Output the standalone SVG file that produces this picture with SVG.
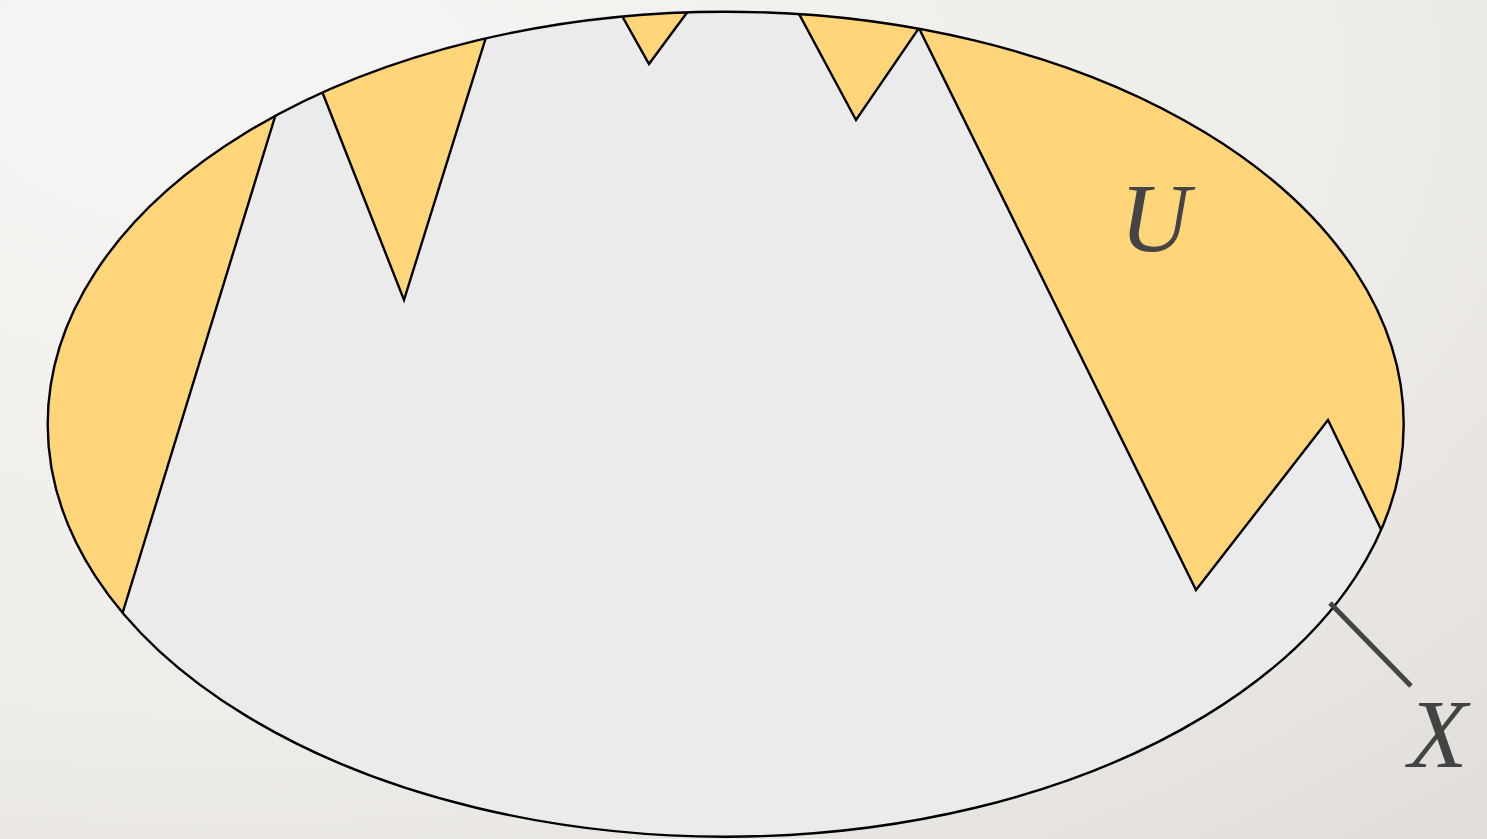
<svg xmlns="http://www.w3.org/2000/svg" width="1487" height="839" viewBox="0 0 1487 839">
  <defs>
    <radialGradient id="bg" cx="0.15" cy="0.1" r="1.2">
      <stop offset="0" stop-color="#f6f5f3"/>
      <stop offset="0.6" stop-color="#efedea"/>
      <stop offset="1" stop-color="#e2dfda"/>
    </radialGradient>
    <clipPath id="clipX">
      <ellipse cx="725.7" cy="424.2" rx="678" ry="412.5"/>
    </clipPath>
    <style>
      .u { fill: #FFD57A; stroke: #000; stroke-width: 2.4; stroke-linejoin: miter; }
      .lbl { font-family: "Times New Roman", "Liberation Serif", serif; font-style: italic; font-weight: normal; font-size: 97px; fill: #444444; }
    </style>
  </defs>
  <rect x="0" y="0" width="1487" height="839" fill="url(#bg)"/>
  <g id="set-X">
    <ellipse cx="725.7" cy="424.2" rx="678" ry="412.5" fill="#EBEBEB"/>
  </g>
  <g id="set-U" clip-path="url(#clipX)">
    <polygon class="u" points="282,94 117,631 0,700 0,0 300,0"/>
    <polygon class="u" points="314,71 404,300 492,18 492,-10 314,-10"/>
    <polygon class="u" points="612,-2 649,64 697,-1"/>
    <polygon class="u" points="791,-1 856,120 930,12 930,-10 791,-10"/>
    <polygon class="u" points="910,10 1196,590 1328,420 1391,550 1500,550 1500,-10 910,-10"/>
  </g>
  <g id="outline">
    <ellipse cx="725.7" cy="424.2" rx="678" ry="412.5" fill="none" stroke="#000" stroke-width="2.4"/>
  </g>
  <g id="connectors">
    <line x1="1330" y1="603" x2="1411" y2="686" stroke="#444444" stroke-width="5"/>
  </g>
  <g id="label-U">
    <text class="lbl" x="1155" y="251" text-anchor="middle">U</text>
  </g>
  <g id="label-X">
    <text class="lbl" x="1438" y="767" text-anchor="middle">X</text>
  </g>
</svg>
